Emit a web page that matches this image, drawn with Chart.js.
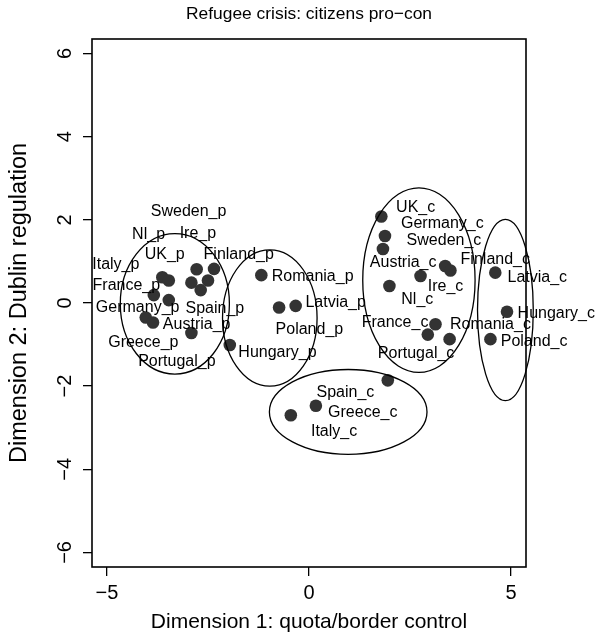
<!DOCTYPE html>
<html>
<head>
<meta charset="utf-8">
<script src="https://cdn.jsdelivr.net/npm/chart.js@4/dist/chart.umd.min.js"></script>
<style>
  body { margin: 0; background: #fff; }
  #wrap { width: 595px; height: 634px; }
</style>
</head>
<body>
<div id="wrap"><canvas id="chart" width="595" height="634"></canvas></div>
<script>
// country positions on the two dimensions
const countries = [
  'Italy_p', 'UK_p', 'France_p', 'Nl_p', 'Germany_p', 'Greece_p', 'Sweden_p', 'Finland_p',
  'Ire_p', 'Spain_p', 'Austria_p', 'Portugal_p', 'Hungary_p', 'Romania_p', 'Poland_p', 'Latvia_p',
  'UK_c', 'Germany_c', 'Sweden_c', 'Nl_c', 'Austria_c', 'Finland_c', 'Ire_c', 'France_c',
  'Romania_c', 'Portugal_c', 'Greece_c', 'Latvia_c', 'Hungary_c', 'Poland_c', 'Spain_c', 'Italy_c'
];
const dim1 = [
  -3.63, -3.47, -3.84, -3.47, -4.04, -3.86, -2.78, -2.35,
  -2.91, -2.50, -2.68, -2.91, -1.96, -1.18, -0.74, -0.33,
  1.79, 1.88, 1.83, 1.99, 2.76, 3.37, 3.50, 2.94,
  3.13, 3.48, 1.95, 4.61, 4.90, 4.49, 0.17, -0.45
];
const dim2 = [
  0.62, 0.54, 0.19, 0.07, -0.35, -0.47, 0.81, 0.82,
  0.49, 0.54, 0.31, -0.72, -1.01, 0.67, -0.11, -0.07,
  2.08, 1.61, 1.30, 0.41, 0.65, 0.89, 0.78, -0.76,
  -0.51, -0.87, -1.86, 0.73, -0.21, -0.87, -2.47, -2.70
];
// where each label ended up (same units)
const labelDim1 = [
  -4.78, -3.57, -4.52, -3.97, -4.24, -4.10, -2.98, -1.74,
  -2.75, -2.33, -2.78, -3.27, -0.78, 0.09, 0.01, 0.66,
  2.64, 3.30, 3.34, 2.68, 2.33, 4.61, 3.38, 2.13,
  4.49, 2.65, 1.33, 5.65, 6.12, 5.57, 0.90, 0.62
];
const labelDim2 = [
  0.92, 1.16, 0.43, 1.64, -0.10, -0.96, 2.19, 1.16,
  1.66, -0.14, -0.53, -1.41, -1.20, 0.63, -0.63, 0.01,
  2.30, 1.92, 1.49, 0.09, 0.97, 1.04, 0.39, -0.47,
  -0.51, -1.21, -2.63, 0.60, -0.25, -0.92, -2.15, -3.10
];
// cluster ellipses
const ellipseX = [-3.32, -0.97, 2.72, 4.86, 0.97];
const ellipseY = [-0.02, -0.36, 0.55, -0.17, -2.62];
const ellipseRX = [1.35, 1.17, 1.39, 0.69, 1.95];
const ellipseRY = [1.69, 1.64, 2.22, 2.18, 1.02];

const xTicks = [-5, 0, 5];
const yTicks = [-6, -4, -2, 0, 2, 4, 6];

const FONT = '"Liberation Sans", Arial, Helvetica, sans-serif';
const minus = v => String(v).replace('-', '\u2212');

const rPlot = {
  id: 'rPlot',
  afterDatasetsDraw(chart) {
    const { ctx, chartArea: a, scales: { x, y } } = chart;
    ctx.save();
    // box
    ctx.strokeStyle = '#000';
    ctx.lineWidth = 1.6;
    ctx.strokeRect(a.left, a.top, a.right - a.left, a.bottom - a.top);

    // ellipses
    ctx.lineWidth = 1.3;
    for (let i = 0; i < ellipseX.length; i++) {
      const cx = x.getPixelForValue(ellipseX[i]);
      const cy = y.getPixelForValue(ellipseY[i]);
      const rx = Math.abs(x.getPixelForValue(ellipseX[i] + ellipseRX[i]) - cx);
      const ry = Math.abs(y.getPixelForValue(ellipseY[i] + ellipseRY[i]) - cy);
      ctx.beginPath();
      ctx.ellipse(cx, cy, rx, ry, 0, 0, Math.PI * 2);
      ctx.stroke();
    }

    // point labels
    ctx.fillStyle = '#000';
    ctx.font = '16px ' + FONT;
    ctx.textAlign = 'center';
    ctx.textBaseline = 'middle';
    countries.forEach((c, i) => {
      ctx.fillText(c, x.getPixelForValue(labelDim1[i]), y.getPixelForValue(labelDim2[i]));
    });

    // tick labels
    ctx.font = '20px ' + FONT;
    x.ticks.forEach(t => {
      ctx.fillText(minus(t.value), x.getPixelForValue(t.value), a.bottom + 26);
    });
    y.ticks.forEach(t => {
      ctx.save();
      ctx.translate(a.left - 27, y.getPixelForValue(t.value));
      ctx.rotate(-Math.PI / 2);
      ctx.fillText(minus(t.value), 0, 0);
      ctx.restore();
    });

    // titles
    const midX = (a.left + a.right) / 2;
    const midY = (a.top + a.bottom) / 2;
    ctx.font = '21px ' + FONT;
    ctx.fillText('Dimension 1: quota/border control', midX, a.bottom + 55);
    ctx.font = '17.4px ' + FONT;
    ctx.fillText('Refugee crisis: citizens pro\u2212con', midX, 14);
    ctx.font = '23.5px ' + FONT;
    ctx.save();
    ctx.translate(20, midY);
    ctx.rotate(-Math.PI / 2);
    ctx.fillText('Dimension 2: Dublin regulation', 0, 0);
    ctx.restore();
    ctx.restore();
  }
};

new Chart(document.getElementById('chart'), {
  type: 'scatter',
  data: {
    datasets: [{
      data: dim1.map((v, i) => ({ x: v, y: dim2[i] })),
      backgroundColor: '#333333',
      borderWidth: 0,
      pointRadius: 6.3
    }]
  },
  options: {
    responsive: false,
    animation: false,
    layout: { padding: { top: 39, right: 69, left: 0, bottom: 0 } },
    plugins: { legend: { display: false }, tooltip: { enabled: false } },
    scales: {
      x: {
        type: 'linear',
        min: -5.37,
        max: 5.37,
        afterBuildTicks: s => { s.ticks = xTicks.map(v => ({ value: v })); },
        afterFit: s => { s.height = 67; },
        ticks: { display: false },
        grid: { drawOnChartArea: false, drawTicks: true, tickLength: 9, color: '#000', lineWidth: 1.3 },
        border: { display: false }
      },
      y: {
        type: 'linear',
        min: -6.35,
        max: 6.35,
        afterBuildTicks: s => { s.ticks = yTicks.map(v => ({ value: v })); },
        afterFit: s => { s.width = 92; },
        ticks: { display: false },
        grid: { drawOnChartArea: false, drawTicks: true, tickLength: 9, color: '#000', lineWidth: 1.3 },
        border: { display: false }
      }
    }
  },
  plugins: [rPlot]
});
</script>
</body>
</html>
